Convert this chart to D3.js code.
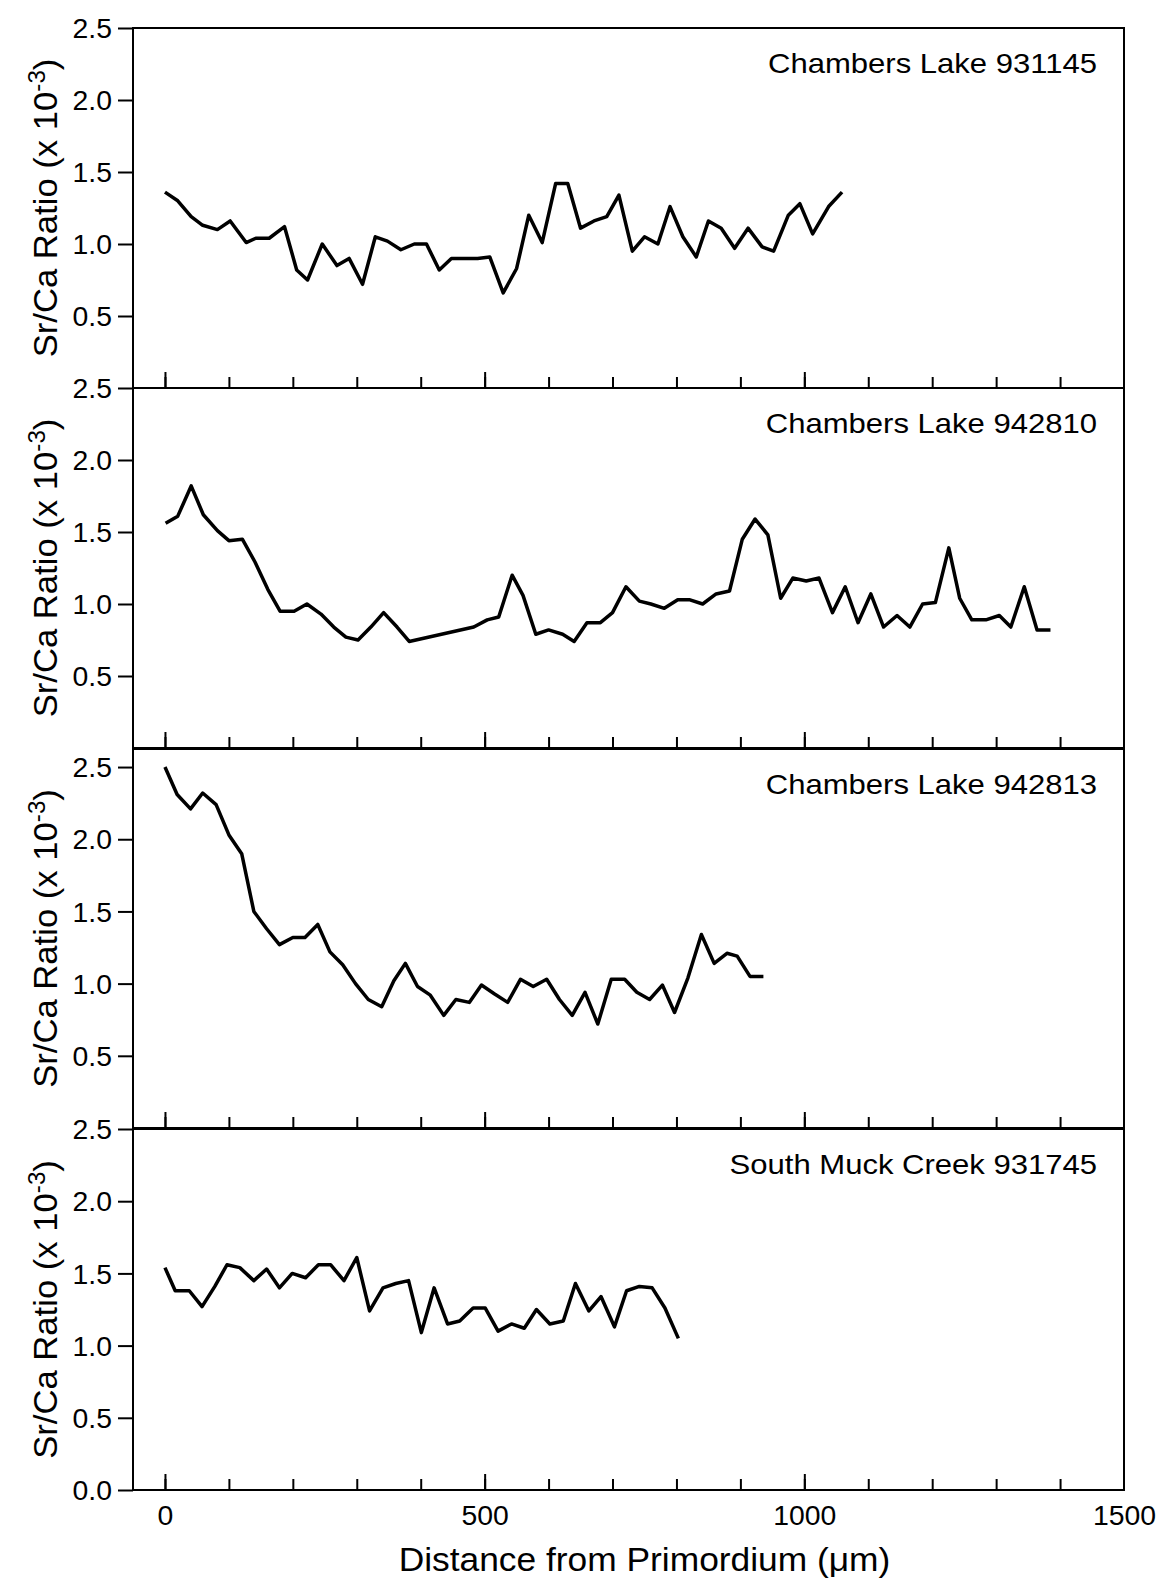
<!DOCTYPE html>
<html>
<head>
<meta charset="utf-8">
<script src="https://d3js.org/d3.v7.min.js"></script>
<style>
  body { margin: 0; background: #fff; }
  text { font-family: "Liberation Sans", Arial, Helvetica, sans-serif; fill: #000; }
</style>
</head>
<body>
<div id="vis"></div>
<script>
  // panel titles
  var panelNames = ["Chambers Lake 931145", "Chambers Lake 942810", "Chambers Lake 942813", "South Muck Creek 931745"]

  // distance from primordium (um) and Sr/Ca ratio (x 10^-3)
  var dist931145 = [0, 20, 41, 59, 82, 102, 127, 142, 163, 187, 206, 223, 246, 269, 288, 309, 329, 348, 369, 390,
    409, 429, 448, 468, 489, 508, 529, 550, 569, 590, 611, 630, 650, 671, 691, 710, 731, 750, 771, 790,
    810, 831, 850, 870, 891, 912, 934, 952, 975, 993, 1013, 1038, 1059]
  var ratio931145 = [1.36, 1.30, 1.19, 1.13, 1.10, 1.16, 1.01, 1.04, 1.04, 1.12, 0.82, 0.75, 1.00, 0.85, 0.90, 0.72, 1.05, 1.02, 0.96, 1.00,
    1.00, 0.82, 0.90, 0.90, 0.90, 0.91, 0.66, 0.83, 1.20, 1.01, 1.42, 1.42, 1.11, 1.16, 1.19, 1.34, 0.95, 1.05, 1.00, 1.26,
    1.05, 0.91, 1.16, 1.11, 0.97, 1.11, 0.98, 0.95, 1.20, 1.28, 1.07, 1.26, 1.36]

  var dist942810 = [1, 20, 41, 60, 82, 100, 121, 141, 161, 180, 202, 222, 244, 264, 283, 302, 322, 342, 363, 382,
    483, 504, 522, 543, 560, 580, 600, 622, 640, 660, 681, 700, 721, 742, 760, 781, 802, 820, 841, 862,
    883, 903, 923, 943, 963, 982, 1003, 1023, 1044, 1064, 1084, 1104, 1124, 1145, 1165, 1185, 1205, 1226, 1243, 1262,
    1284, 1305, 1323, 1344, 1364, 1385]
  var ratio942810 = [1.56, 1.61, 1.82, 1.62, 1.51, 1.44, 1.45, 1.29, 1.10, 0.95, 0.95, 1.00, 0.93, 0.84, 0.77, 0.75, 0.84, 0.94, 0.84, 0.74,
    0.84, 0.89, 0.91, 1.20, 1.06, 0.79, 0.82, 0.79, 0.74, 0.87, 0.87, 0.94, 1.12, 1.02, 1.00, 0.97, 1.03, 1.03, 1.00, 1.07,
    1.09, 1.45, 1.59, 1.48, 1.04, 1.18, 1.16, 1.18, 0.94, 1.12, 0.87, 1.07, 0.84, 0.92, 0.84, 1.00, 1.01, 1.39, 1.04, 0.89,
    0.89, 0.92, 0.84, 1.12, 0.82, 0.82]

  var dist942813 = [0, 19, 40, 59, 80, 100, 120, 139, 159, 179, 200, 219, 239, 258, 278, 298, 318, 339, 358, 376,
    395, 415, 436, 455, 476, 495, 515, 536, 556, 576, 597, 617, 637, 657, 677, 698, 719, 738, 758, 778,
    797, 818, 839, 859, 879, 895, 915, 936]
  var ratio942813 = [2.50, 2.31, 2.21, 2.32, 2.24, 2.03, 1.90, 1.50, 1.38, 1.27, 1.32, 1.32, 1.41, 1.22, 1.13, 1.00, 0.89, 0.84, 1.02, 1.14,
    0.98, 0.92, 0.78, 0.89, 0.87, 0.99, 0.93, 0.87, 1.03, 0.98, 1.03, 0.89, 0.78, 0.94, 0.72, 1.03, 1.03, 0.94, 0.89, 0.99,
    0.80, 1.04, 1.34, 1.14, 1.21, 1.19, 1.05, 1.05]

  var dist931745 = [0, 16, 38, 58, 78, 97, 117, 139, 159, 179, 199, 220, 240, 259, 280, 300, 320, 341, 361, 381,
    401, 421, 442, 461, 482, 501, 521, 542, 562, 581, 602, 623, 642, 663, 682, 703, 722, 742, 762, 782, 803]
  var ratio931745 = [1.54, 1.38, 1.38, 1.27, 1.41, 1.56, 1.54, 1.45, 1.53, 1.40, 1.50, 1.47, 1.56, 1.56, 1.45, 1.61, 1.24, 1.40, 1.43, 1.45,
    1.09, 1.40, 1.15, 1.17, 1.26, 1.26, 1.10, 1.15, 1.12, 1.25, 1.15, 1.17, 1.43, 1.24, 1.34, 1.13, 1.38, 1.41, 1.40, 1.26, 1.05]

  // tick values
  var yTicksUpper = [0.5, 1.0, 1.5, 2.0, 2.5]
  var yTicksBottom = [0.0, 0.5, 1.0, 1.5, 2.0, 2.5]
  var xMinorTicks = [0, 100, 200, 300, 400, 500, 600, 700, 800, 900, 1000, 1100, 1200, 1300, 1400]
  var xMajorTicks = [0, 500, 1000]
  var xLabelTicks = [0, 500, 1000, 1500]

  var dists = [dist931145, dist942810, dist942813, dist931745]
  var ratios = [ratio931145, ratio942810, ratio942813, ratio931745]

  // layout
  var width = 1167, height = 1583
  var left = 133, right = 1124
  var tops = [28, 388, 749, 1129]
  var bottoms = [388, 748, 1128, 1490]
  var yMax = [2.5, 2.5, 2.625, 2.5]
  var SX = 1.05   // the original type is a bit wider than Arial

  var svg = d3.select("#vis")
    .append("svg")
      .attr("width", width)
      .attr("height", height)

  var x = d3.scaleLinear()
    .domain([-50, 1500])
    .range([left, right])

  for (var p = 0; p < 4; p++) {
    var y = d3.scaleLinear()
      .domain([0, yMax[p]])
      .range([bottoms[p], tops[p]])

    var g = svg.append("g")

    // y axis ticks + labels
    var yAx = g.append("g")
      .attr("transform", "translate(" + left + ",0)")
      .call(d3.axisLeft(y)
        .tickValues(p == 3 ? yTicksBottom : yTicksUpper)
        .tickSize(15)
        .tickFormat(d3.format(".1f")))
    yAx.select(".domain").remove()
    yAx.selectAll("line").attr("stroke", "#000").attr("stroke-width", 2)
    yAx.selectAll("text")
      .attr("x", 0)
      .attr("dy", "0.36em")
      .attr("transform", "translate(-21,0) scale(" + SX + ",1)")
      .style("font-size", "27px")
      .style("font-family", '"Liberation Sans", Arial, sans-serif')

    // x ticks pointing up into the panel
    var xMinor = g.append("g")
      .attr("transform", "translate(0," + bottoms[p] + ")")
      .call(d3.axisBottom(x).tickValues(xMinorTicks).tickSize(-11).tickFormat(""))
    xMinor.select(".domain").remove()
    xMinor.selectAll("line").attr("stroke", "#000").attr("stroke-width", 2)

    var xMajor = g.append("g")
      .attr("transform", "translate(0," + bottoms[p] + ")")
      .call(d3.axisBottom(x).tickValues(xMajorTicks).tickSize(-16).tickFormat(""))
    xMajor.select(".domain").remove()
    xMajor.selectAll("line").attr("stroke", "#000").attr("stroke-width", 2)

    // frame
    g.append("rect")
      .attr("x", left)
      .attr("y", tops[p])
      .attr("width", right - left)
      .attr("height", bottoms[p] - tops[p])
      .attr("fill", "none")
      .attr("stroke", "#000")
      .attr("stroke-width", 2)

    // series line
    var pts = dists[p].map(function(d, i) { return [d, ratios[p][i]] })
    g.append("path")
      .datum(pts)
      .attr("fill", "none")
      .attr("stroke", "#000")
      .attr("stroke-width", 3.5)
      .attr("stroke-linejoin", "round")
      .attr("d", d3.line()
        .x(function(d) { return x(d[0]) })
        .y(function(d) { return y(d[1]) }))

    // panel title
    g.append("text")
      .attr("transform", "translate(1097," + (tops[p] + 45) + ") scale(1.15,1)")
      .attr("text-anchor", "end")
      .style("font-size", "27px")
      .text(panelNames[p])

    // y axis title
    var yt = g.append("text")
      .attr("transform", "translate(57," + ((tops[p] + bottoms[p]) / 2) + ") rotate(-90) scale(" + SX + ",1)")
      .attr("text-anchor", "middle")
      .style("font-size", "33px")
    yt.append("tspan").text("Sr/Ca Ratio (x 10")
    yt.append("tspan").attr("dy", -12).style("font-size", "23px").text("-3")
    yt.append("tspan").attr("dy", 12).text(")")
  }

  // bottom x axis labels
  var xLab = svg.append("g")
    .attr("transform", "translate(0," + bottoms[3] + ")")
    .call(d3.axisBottom(x).tickValues(xLabelTicks).tickSize(0).tickPadding(0).tickFormat(d3.format("d")))
  xLab.select(".domain").remove()
  xLab.selectAll("text")
    .attr("y", 0)
    .attr("dy", 0)
    .attr("transform", "translate(0,35) scale(" + SX + ",1)")
    .style("font-size", "27px")
    .style("font-family", '"Liberation Sans", Arial, sans-serif')

  svg.append("text")
    .attr("transform", "translate(" + x(750) + ",1571) scale(1.04,1)")
    .attr("text-anchor", "middle")
    .style("font-size", "34px")
    .text("Distance from Primordium (\u03BCm)")
</script>
</body>
</html>
